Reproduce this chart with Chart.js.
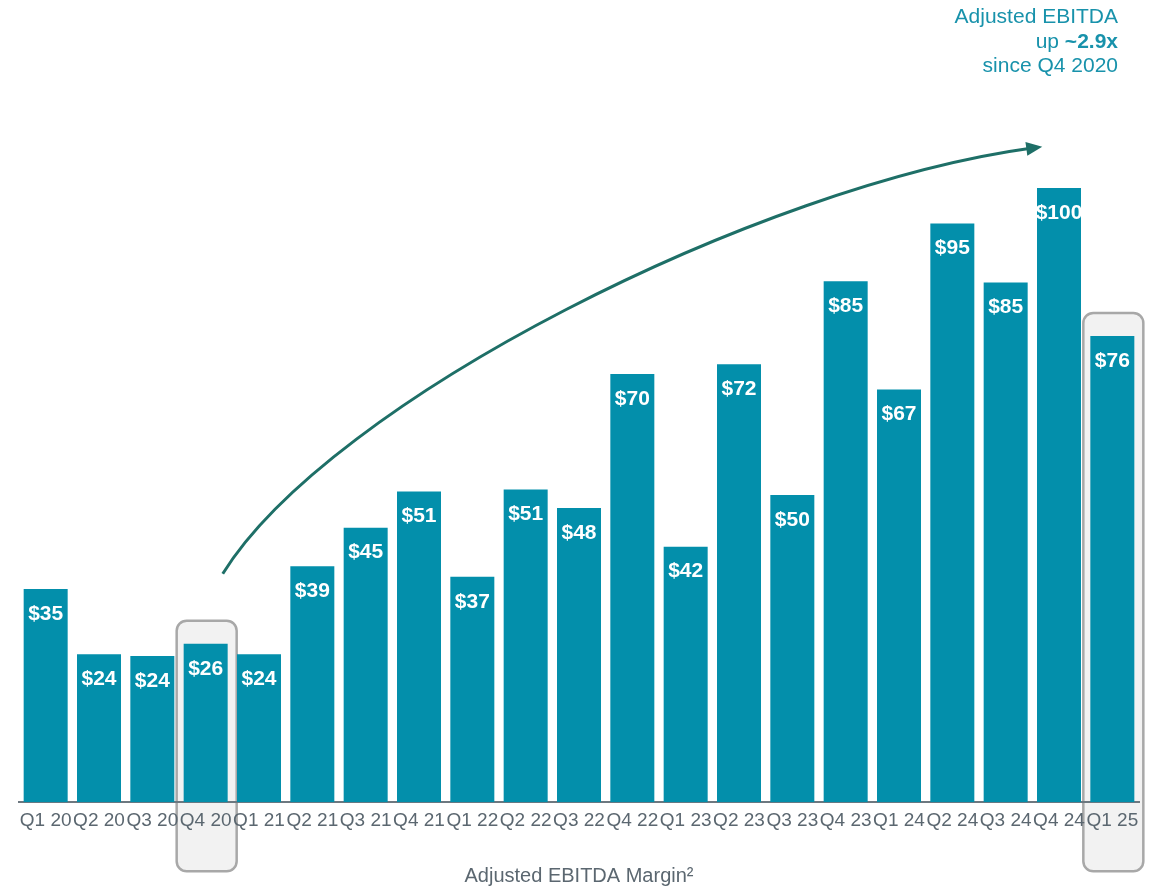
<!DOCTYPE html>
<html>
<head>
<meta charset="utf-8">
<script src="https://cdn.jsdelivr.net/npm/chart.js@4"></script>
<style>
  body { margin: 0; background: #ffffff; }
  #wrap { width: 1152px; height: 890px; position: relative; }
</style>
</head>
<body>
<div id="wrap"><canvas id="chart"></canvas></div>
<script>
// quarters on the x axis
const quarters = ['Q1 20', 'Q2 20', 'Q3 20', 'Q4 20', 'Q1 21', 'Q2 21', 'Q3 21', 'Q4 21',
    'Q1 22', 'Q2 22', 'Q3 22', 'Q4 22', 'Q1 23', 'Q2 23', 'Q3 23', 'Q4 23',
    'Q1 24', 'Q2 24', 'Q3 24', 'Q4 24', 'Q1 25'];
// adjusted EBITDA ($M)
const ebitda = [34.7, 24.1, 23.8, 25.8, 24.1, 38.4, 44.7, 50.6, 36.7, 50.9, 47.9, 69.7,
    41.6, 71.3, 50.0, 84.8, 67.2, 94.2, 84.6, 100, 75.9];
// printed bar labels
const barLabels = ['$35', '$24', '$24', '$26', '$24', '$39', '$45', '$51', '$37', '$51', '$48', '$70',
    '$42', '$72', '$50', '$85', '$67', '$95', '$85', '$100', '$76'];
// highlighted quarters (grey boxes)
const highlighted = [3, 20];
// growth arrow path in (category index, value) space: start, control 1, control 2, end
const arrowPath = [[3.32, 37.2], [5.33, 65.4], [13.4, 100.5], [18.5, 106.5]];

const FONT = '"Liberation Sans", Arial, sans-serif';
Chart.defaults.font.family = FONT;

const highlightBoxes = {
    id: 'highlightBoxes',
    beforeDraw(chart) {
        const ctx = chart.ctx;
        const meta = chart.getDatasetMeta(0);
        const area = chart.chartArea;
        ctx.save();
        highlighted.forEach(i => {
            const bar = meta.data[i];
            const w = 60;
            const x = bar.x - w / 2 + 1;
            const top = bar.y - 23;
            const bottom = area.bottom + 69;
            ctx.beginPath();
            ctx.roundRect(x, top, w, bottom - top, 10);
            ctx.fillStyle = '#f2f2f2';
            ctx.fill();
            ctx.lineWidth = 2.5;
            ctx.strokeStyle = '#a8a8a8';
            ctx.stroke();
        });
        ctx.restore();
    }
};

const barText = {
    id: 'barText',
    afterDatasetsDraw(chart) {
        const ctx = chart.ctx;
        const meta = chart.getDatasetMeta(0);
        ctx.save();
        ctx.fillStyle = '#ffffff';
        ctx.font = 'bold 21px ' + FONT;
        ctx.textAlign = 'center';
        ctx.textBaseline = 'middle';
        meta.data.forEach((bar, i) => {
            ctx.fillText(barLabels[i], bar.x, bar.y + 25);
        });
        ctx.restore();
    }
};

const growthNote = {
    id: 'growthNote',
    afterDraw(chart) {
        const ctx = chart.ctx;
        const xs = chart.scales.x;
        const ys = chart.scales.y;
        const p = arrowPath.map(([i, v]) => [xs.getPixelForValue(i), ys.getPixelForValue(v)]);
        ctx.save();
        // curved arrow
        ctx.strokeStyle = '#1e6f67';
        ctx.fillStyle = '#1e6f67';
        ctx.lineWidth = 3;
        ctx.beginPath();
        ctx.moveTo(p[0][0], p[0][1]);
        ctx.bezierCurveTo(p[1][0], p[1][1], p[2][0], p[2][1], p[3][0], p[3][1]);
        ctx.stroke();
        // arrow head
        const ang = Math.atan2(p[3][1] - p[2][1], p[3][0] - p[2][0]);
        const tipX = p[3][0] + 10 * Math.cos(ang);
        const tipY = p[3][1] + 10 * Math.sin(ang);
        ctx.beginPath();
        ctx.moveTo(tipX, tipY);
        ctx.lineTo(tipX - 16 * Math.cos(ang) + 7 * Math.sin(ang), tipY - 16 * Math.sin(ang) - 7 * Math.cos(ang));
        ctx.lineTo(tipX - 16 * Math.cos(ang) - 7 * Math.sin(ang), tipY - 16 * Math.sin(ang) + 7 * Math.cos(ang));
        ctx.closePath();
        ctx.fill();

        // note text, top right
        ctx.fillStyle = '#1892ab';
        ctx.textAlign = 'right';
        ctx.textBaseline = 'alphabetic';
        const rx = 1118;
        ctx.font = '21px ' + FONT;
        ctx.fillText('Adjusted EBITDA', rx, 23);
        ctx.font = 'bold 21px ' + FONT;
        ctx.fillText('~2.9x', rx, 48);
        const bw = ctx.measureText('~2.9x').width;
        ctx.font = '21px ' + FONT;
        ctx.fillText('up ', rx - bw, 48);
        ctx.fillText('since Q4 2020', rx, 72);
        ctx.restore();
    }
};

const ctx = document.getElementById('chart').getContext('2d');
const myChart = new Chart(ctx, {
    type: 'bar',
    data: {
        labels: quarters,
        datasets: [{
            label: 'Adjusted EBITDA',
            data: ebitda,
            backgroundColor: '#038fab',
            borderWidth: 0,
            barPercentage: 0.825,
            categoryPercentage: 1
        }]
    },
    options: {
        responsive: true,
        maintainAspectRatio: false,
        animation: false,
        layout: {
            padding: { top: 188, left: 19, right: 13, bottom: 0 }
        },
        plugins: {
            legend: { display: false },
            tooltip: { enabled: false }
        },
        scales: {
            x: {
                grid: { display: true, drawOnChartArea: false, drawTicks: false },
                border: { display: true, color: '#6d7880', width: 2 },
                ticks: {
                    color: '#5b6770',
                    font: { size: 19 },
                    padding: 7,
                    maxRotation: 0,
                    autoSkip: false
                },
                title: {
                    display: true,
                    text: 'Adjusted EBITDA Margin\u00b2',
                    color: '#5b6770',
                    font: { size: 20 },
                    padding: { top: 25, bottom: 2 }
                }
            },
            y: {
                display: false,
                min: 0,
                max: 100
            }
        }
    },
    plugins: [highlightBoxes, barText, growthNote]
});
</script>
</body>
</html>
